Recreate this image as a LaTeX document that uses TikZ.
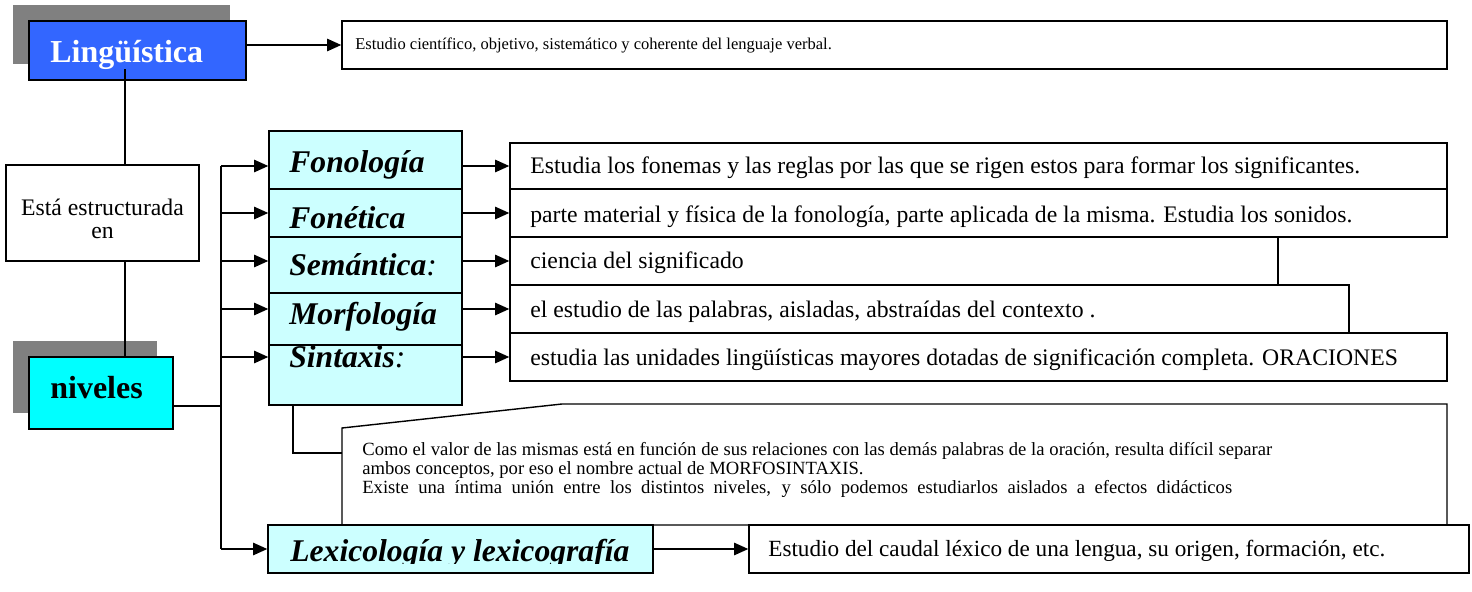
\documentclass[tikz,border=0pt]{standalone}
\usepackage{fontspec}
\setmainfont{Liberation Serif}
\usetikzlibrary{arrows.meta,fit,shadows,calc}

\begin{document}
\begin{tikzpicture}[x=0.02cm,y=-0.02cm,
  box/.style={draw,line width=0.8pt,inner sep=0pt},
  shade/.style={drop shadow={shadow xshift=-0.32cm,shadow yshift=0.32cm,fill=shadowGray,opacity=1}},
  lvlbox/.style={box,fill=levelCyan},
  defbox/.style={box,fill=white},
  conn/.style={line width=0.8pt},
  arr/.style={conn,-{Triangle[length=8pt,width=7pt]}},
  titletxt/.style={font=\fontsize{18.2}{20}\selectfont\bfseries,anchor=base west,inner sep=0pt},
  lvltxt/.style={font=\fontsize{18}{20}\selectfont\bfseries\itshape,anchor=base west,inner sep=0pt},
  deftxt/.style={font=\fontsize{13.5}{15}\selectfont,anchor=base west,inner sep=0pt},
  notetxt/.style={font=\fontsize{10.6}{10.9}\selectfont,anchor=north west,align=left,inner sep=0pt}]
\definecolor{lingBlue}{HTML}{3366FF}
\definecolor{levelCyan}{HTML}{CCFFFF}
\definecolor{nivelCyan}{HTML}{00FFFF}
\definecolor{shadowGray}{HTML}{808080}
\useasboundingbox (0,0) rectangle (1472,592);

% left spine: Lingüística -> Está estructurada en -> niveles
\node[box,fill=lingBlue,shade,fit={(29,21) (246,80)}] (lin) {};
\node[titletxt,text=white] (lintxt) at (50,62) {Lingüística};
\node[defbox,fit={(342,21) (1447,69)}] (dlin) {};
\node[deftxt,font=\fontsize{9.4}{11}\selectfont] (dlintxt) at (355,49) {Estudio científico, objetivo, sistemático y coherente del lenguaje verbal.};
\draw[arr] (dlin.west -| lin.east) -- (dlin.west);

\node[defbox,fit={(6,165) (199,261)}] (est) {};
\node[align=center,inner sep=0pt,font=\fontsize{13.5}{13}\selectfont]
  (esttxt) at ($(est.center)+(0,6)$) {Está estructurada\\en};
\node[box,fill=nivelCyan,shade,fit={(29,357) (173,429)}] (niv) {};
\node[titletxt] (nivtxt) at (50,398) {niveles};

\coordinate (spine) at (125,0);
\draw[conn] (spine |- lintxt.south) -- (spine |- est.north);
\draw[conn] (spine |- est.south) -- (spine |- niv.north);

% levels
\node[lvlbox,fit={(269,131) (462,189)}] (fon) {};
\node[lvlbox,fit={(269,189) (462,237)}] (fet) {};
\node[lvlbox,fit={(269,237) (462,293)}] (sem) {};
\node[lvlbox,fit={(269,293) (462,345)}] (mor) {};
\node[lvlbox,fit={(269,345) (462,405)}] (sin) {};
\node[lvltxt] (fontxt) at (289,172) {Fonología};
\node[lvltxt] (fettxt) at (289,228) {Fonética};
\node[lvltxt] (semtxt) at (289,275) {Semántica{\mdseries:}};
\begin{scope}
  \clip (269,293) rectangle (462,332);
  \node[lvltxt] (mortxt) at (289,324) {Morfología};
\end{scope}
\node[lvltxt] (sintxt) at (289,367) {Sintaxis{\mdseries:}};

% definitions
\node[defbox,fit={(510,143) (1447,189)}] (dfon) {};
\node[defbox,fit={(510,189) (1447,237)}] (dfet) {};
\node[defbox,fit={(510,237) (1278,285)}] (dsem) {};
\node[defbox,fit={(510,285) (1349,333)}] (dmor) {};
\node[defbox,fit={(510,333) (1447,381)}] (dsin) {};
\node[deftxt] at (530,173) {Estudia los fonemas y las reglas por las que se rigen estos para formar los significantes.};
\node[deftxt] at (530,222) {parte material y física de la fonología, parte aplicada de la misma. Estudia los sonidos.};
\node[deftxt] at (530,268) {ciencia del significado};
\node[deftxt] at (530,317) {el estudio de las palabras, aisladas, abstraídas del contexto .};
\node[deftxt] at (530,365) {estudia las unidades lingüísticas mayores dotadas de significación completa. ORACIONES};

% note on morfosintaxis
\draw[conn,fill=white] (342,525) -- (342,428) -- (562,404) -- (1447,404) -- (1447,525) -- cycle;
\coordinate (tip) at (342,453);
\draw[conn] (sin.south -| 293,0) |- (tip);
\node[notetxt] (note) at (362,442) {%
\makebox[18.2cm][s]{Como el valor de las mismas está en función de sus relaciones con las demás palabras de la oración, resulta difícil separar}\\
ambos conceptos, por eso el nombre actual de MORFOSINTAXIS.\\
\makebox[17.4cm][s]{Existe una íntima unión entre los distintos niveles, y sólo podemos estudiarlos aislados a efectos didácticos}};

% lexicology
\node[lvlbox,fit={(268,525) (653,573)}] (lex) {};
\begin{scope}
  \clip (268,525) rectangle (653,563);
  \node[lvltxt] (lextxt) at (290,561) {Lexicología y lexicografía};
\end{scope}
\node[defbox,fit={(749,525) (1469,573)}] (dlex) {};
\node[deftxt,font=\fontsize{13.2}{15}\selectfont] at (768,556) {Estudio del caudal léxico de una lengua, su origen, formación, etc.};

% connectors
\coordinate (trunk) at (221,0);
\draw[conn] (trunk |- dfon.west) -- (trunk |- lex.west);
\draw[conn] ($(niv.east)+(0,13)$) -- (trunk |- {$(niv.east)+(0,13)$});
\foreach \row in {fon,fet,sem,mor,sin} {
  \draw[arr] (trunk |- d\row.west) -- (d\row.west -| \row.west);
  \draw[arr] (d\row.west -| \row.east) -- (d\row.west);
}
\draw[arr] (trunk |- lex.west) -- (lex.west);
\draw[arr] (lex.east) -- (dlex.west);
\end{tikzpicture}
\end{document}
